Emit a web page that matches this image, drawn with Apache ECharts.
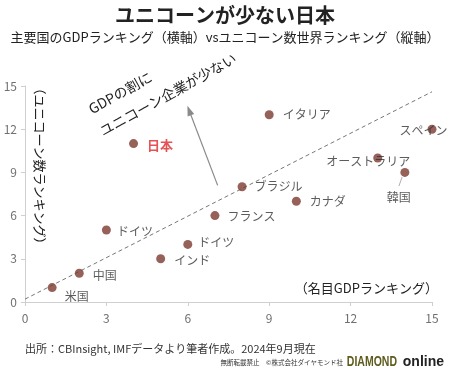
<!DOCTYPE html>
<html>
<head>
<meta charset="utf-8">
<script src="https://cdn.jsdelivr.net/npm/echarts@6/dist/echarts.min.js"></script>
<style>
html,body{margin:0;padding:0;background:#fff;}
#main{width:450px;height:376px;}
</style>
</head>
<body>
<div id="main"></div>
<script>
// data
var countries   = ['米国','中国','ドイツ','インド','ドイツ','フランス','ブラジル','カナダ','日本','イタリア','オーストラリア','スペイン','韓国'];
var gdpRank     = [1, 2, 3, 5, 6, 7, 8, 10, 4, 9, 13, 15, 14];
var unicornRank = [1, 2, 5, 3, 4, 6, 8, 7, 11, 13, 10, 12, 9];
var trendX      = [0, 15];
var trendY      = [0.2, 14.6];
var axisTicks   = [0, 3, 6, 9, 12, 15];

var JP = '"Noto Sans CJK JP", "Noto Sans", sans-serif';

// label placement per point (index -> style / shift)
var labelPos = {
	0:  {position:'right', distance:8},
	1:  {position:'right', distance:9},
	2:  {position:'right', distance:6},
	3:  {position:'right', distance:9},
	4:  {position:'right', distance:6},
	5:  {position:'right', distance:8},
	6:  {position:'right', distance:8},
	7:  {position:'right', distance:9},
	8:  {position:'right', distance:9, color:'#e0262b', fontWeight:'bold', fontSize:13},
	9:  {position:'right', distance:9},
	10: {position:'left', distance:-37},
	11: {position:'left', distance:-20},
	12: {position:'bottom', distance:2}
};
var labelShift = {0:[0,9], 1:[0,2], 2:[0,1], 3:[0,2], 4:[0,-2], 5:[0,1], 8:[0,1], 10:[0,3], 11:[0,1], 12:[-6,13]};

var pts = [];
for (var i = 0; i < countries.length; i++) {
	pts.push({name: countries[i], value: [gdpRank[i], unicornRank[i]], label: labelPos[i]});
}
var trend = [];
for (var j = 0; j < trendX.length; j++) trend.push([trendX[j], trendY[j]]);

var chart = echarts.init(document.getElementById('main'));
chart.setOption({
	animation: false,
	backgroundColor: '#fff',
	textStyle: {fontFamily: JP},
	grid: {left: 25, right: 18, top: 86, bottom: 74},
	xAxis: {
		type: 'value', min: axisTicks[0], max: axisTicks[axisTicks.length-1], interval: 3,
		splitLine: {show: false},
		axisLine: {lineStyle: {color: '#cfcfcf'}},
		axisTick: {show: true, length: 4, lineStyle: {color: '#cfcfcf'}},
		axisLabel: {color: '#707070', fontSize: 12, margin: 10, fontFamily: JP}
	},
	yAxis: {
		type: 'value', min: axisTicks[0], max: axisTicks[axisTicks.length-1], interval: 3,
		splitLine: {show: false},
		axisLine: {show: true, lineStyle: {color: '#cfcfcf'}},
		axisTick: {show: true, length: 4, lineStyle: {color: '#cfcfcf'}},
		axisLabel: {color: '#707070', fontSize: 12, margin: 8, fontFamily: JP}
	},
	series: [
		{
			type: 'line', data: trend, symbol: 'none', silent: true,
			lineStyle: {color: '#777', width: 1, type: [4, 3]},
			markLine: {
				silent: true, symbol: ['none', 'triangle'], symbolSize: [7, 10],
				label: {show: false},
				lineStyle: {color: '#8a8a8a', width: 1.2, type: 'solid'},
				data: [[{coord: [7.1, 8.1]}, {coord: [6.05, 13.3]}]]
			}
		},
		{
			type: 'scatter', data: pts, symbolSize: 9, z: 3, clip: false,
			itemStyle: {color: '#7b3a30'},
			label: {show: true, formatter: '{b}', color: '#333', fontSize: 12, fontFamily: JP, textBorderWidth: 0},
			labelLayout: function (p) {
				var s = labelShift[p.dataIndex];
				return s ? {dx: s[0], dy: s[1]} : {};
			},
			// 韓国 leader line
			markLine: {
				silent: true, symbol: 'none', label: {show: false},
				lineStyle: {color: '#b0b0b0', width: 1, type: 'solid'},
				data: [[{coord: [13.9, 8.68]}, {coord: [13.78, 8.05]}]]
			}
		}
	],
	graphic: [
		{type: 'text', left: 'center', top: 5, style: {text: 'ユニコーンが少ない日本', font: 'bold 20px ' + JP, fill: '#222'}},
		{type: 'text', left: 'center', top: 31, style: {text: '主要国のGDPランキング（横軸）vsユニコーン数世界ランキング（縦軸）', font: '13px ' + JP, fill: '#222'}},
		{type: 'text', x: 40, y: 166, rotation: -Math.PI/2, style: {text: '（ユニコーン数ランキング）', font: '13px ' + JP, fill: '#222', align: 'center', verticalAlign: 'middle'}},
		{type: 'text', x: 438, y: 288, style: {text: '（名目GDPランキング）', font: '13px ' + JP, fill: '#222', align: 'right', verticalAlign: 'middle'}},
		{type: 'text', x: 93, y: 116, rotation: Math.PI/6.2, style: {text: 'GDPの割に', font: '14px ' + JP, fill: '#222', align: 'left', verticalAlign: 'bottom'}},
		{type: 'text', x: 104, y: 138, rotation: Math.PI/6.2, style: {text: 'ユニコーン企業が少ない', font: '14px ' + JP, fill: '#222', align: 'left', verticalAlign: 'bottom'}},
		{type: 'text', x: 25, y: 349, style: {text: '出所：CBInsight, IMFデータより筆者作成。2024年9月現在', font: '11px ' + JP, fill: '#333', verticalAlign: 'middle'}},
		{type: 'text', x: 343, y: 363, style: {text: '無断転載禁止　©株式会社ダイヤモンド社', font: '6.5px ' + JP, fill: '#333', align: 'right', verticalAlign: 'middle'}},
		{type: 'text', x: 397, y: 362, scaleX: 0.75, style: {text: 'DIAMOND', font: 'bold 14px "Liberation Sans", Arial, sans-serif', fill: '#5e5b1c', align: 'right', verticalAlign: 'middle'}},
		{type: 'text', x: 444, y: 362, style: {text: 'online', font: 'bold 14px "Liberation Sans", Arial, sans-serif', fill: '#222', align: 'right', verticalAlign: 'middle'}}
	]
});
</script>
</body>
</html>
